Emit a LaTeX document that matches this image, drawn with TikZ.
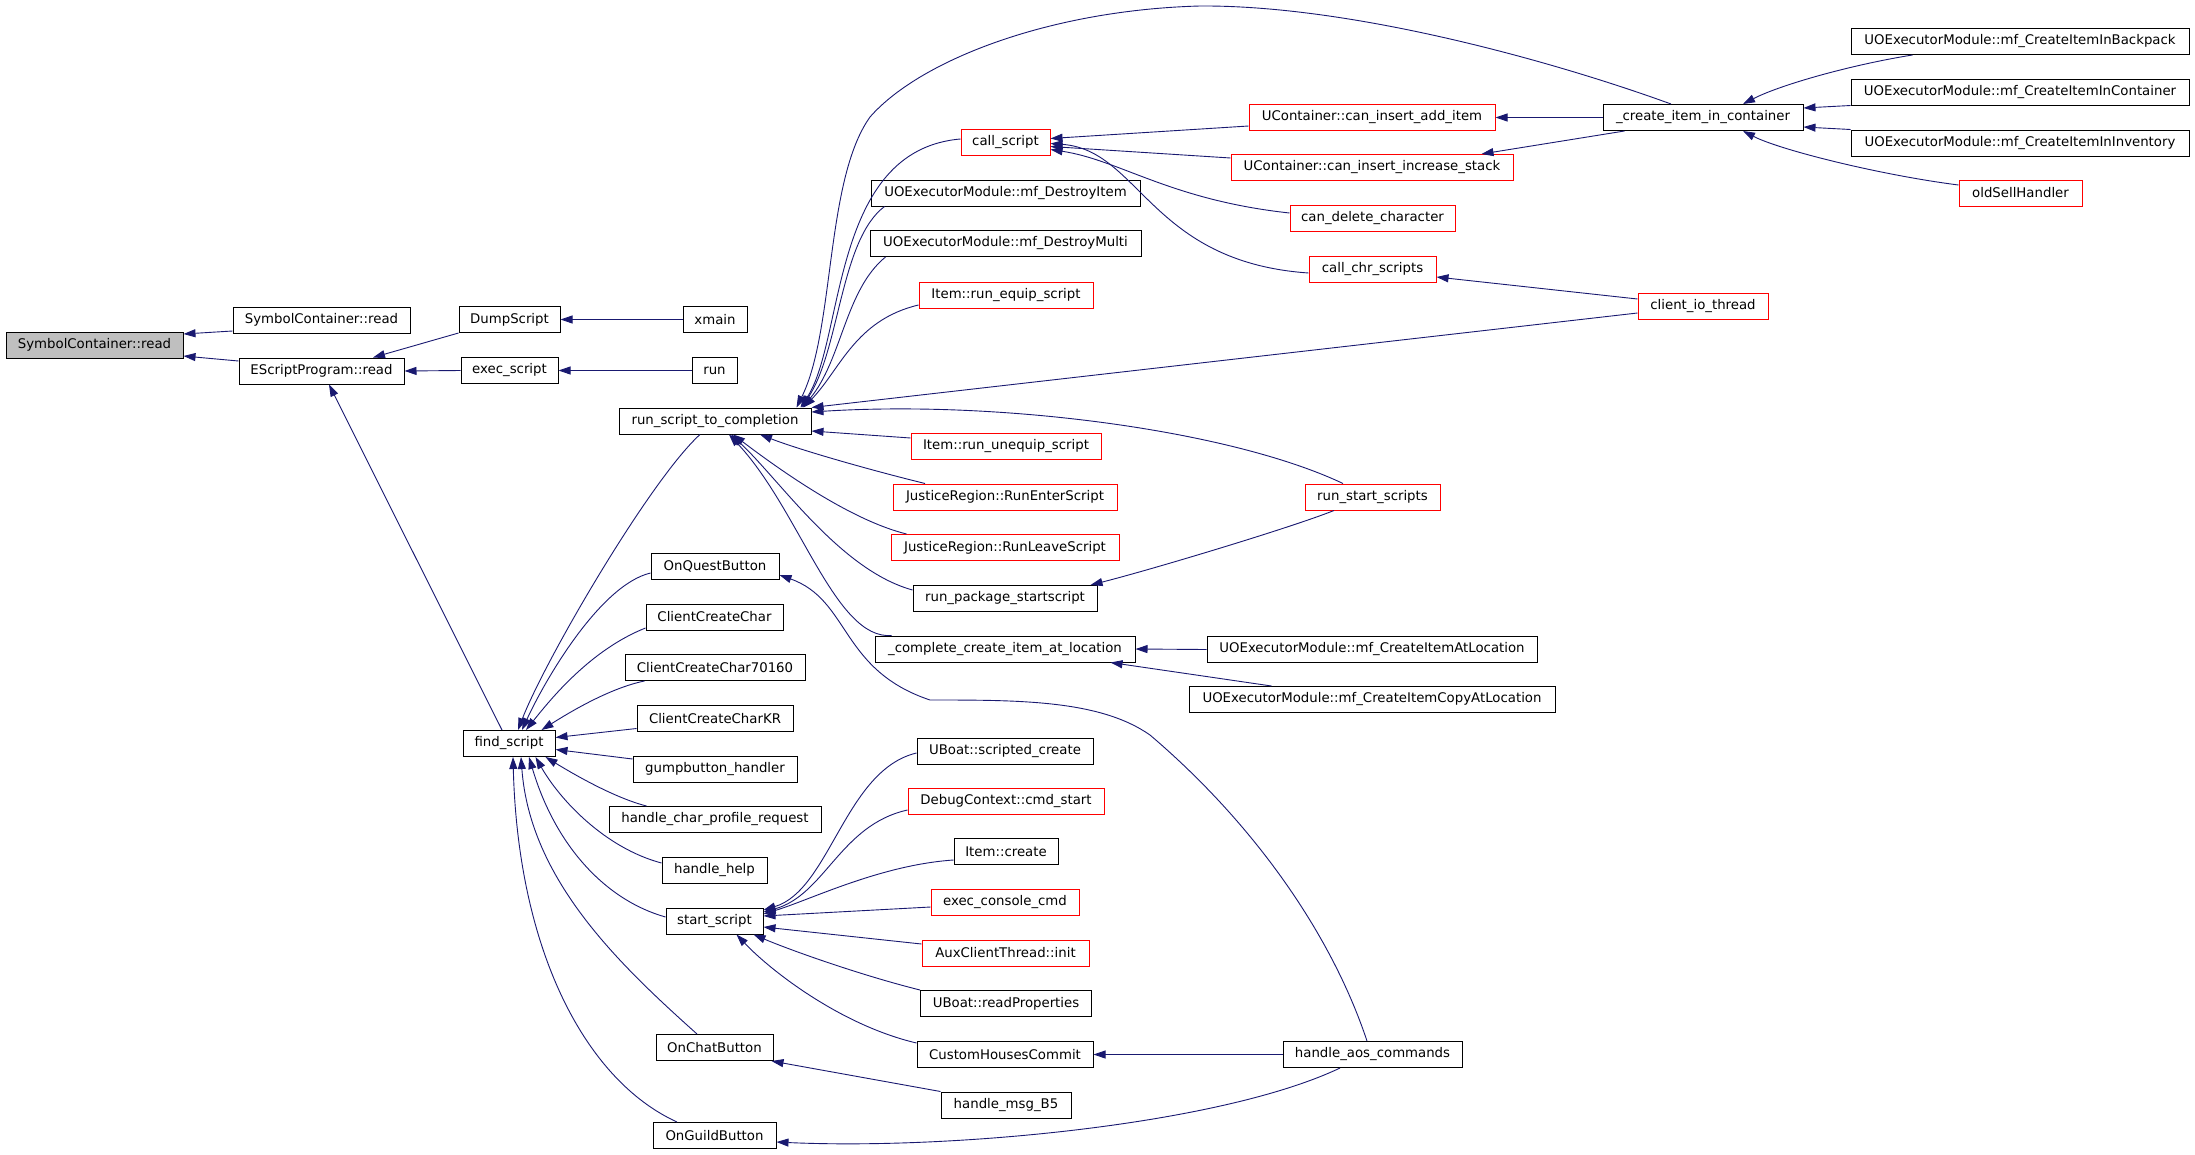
\documentclass[tikz,border=0pt]{standalone}
\usepackage{fontspec}
\setmainfont{DejaVu Sans}
\usepackage{tikz}
\usetikzlibrary{positioning, arrows.meta}
\definecolor{edgeblue}{HTML}{191970}

\begin{document}
\begin{tikzpicture}[x=1pt, y=-1pt,
        func/.style={draw=black, line width=1pt, minimum height=26pt, inner xsep=0pt, inner ysep=0pt,
            font=\fontsize{13.3}{16}\selectfont},
        trunc/.style={func, draw=red},
        rootfn/.style={func, fill=black!25},
        callline/.style={draw=edgeblue, line width=0.9pt, {Triangle[length=12pt,width=8pt]}-}]
    \useasboundingbox (0,0) rectangle (2195,1154);

    % rank 0 - 2
    \node[rootfn, minimum width=177pt] (root) at (94.5,345) {SymbolContainer::read};
    \node[func, minimum width=177pt] (scread) at (321.5,320) {SymbolContainer::read};
    \node[func, minimum width=165pt] (espread) at (321.5,371) {EScriptProgram::read};
    \node[func, minimum width=101pt] (dumpscript) at (509.5,319.5) {DumpScript};
    \node[func, minimum width=97pt] (execscript) at (509.5,370.5) {exec\_script};
    \node[func, minimum width=92pt] (findscript) at (509,743.5) {find\_script};

    % rank 3
    \node[func, minimum width=64pt] (xmain) at (715,319.5) {xmain};
    \node[func, minimum width=45pt] (run) at (714.5,370.5) {run};
    \node[func, minimum width=192pt] (rstc) at (715,421) {run\_script\_to\_completion};
    \node[func, minimum width=128pt] (onquest) at (715,566.5) {OnQuestButton};
    \node[func, minimum width=137pt] (ccchar) at (714.5,617) {ClientCreateChar};
    \node[func, minimum width=180pt] (ccchar7) at (715,667.5) {ClientCreateChar70160};
    \node[func, minimum width=156pt] (cccharkr) at (715,718.5) {ClientCreateCharKR};
    \node[func, minimum width=164pt] (gumpbtn) at (715,769) {gumpbutton\_handler};
    \node[func, minimum width=212pt] (charprofile) at (715,819.5) {handle\_char\_profile\_request};
    \node[func, minimum width=105pt] (handlehelp) at (714.5,870.5) {handle\_help};
    \node[func, minimum width=97pt] (startscript) at (714.5,921) {start\_script};
    \node[func, minimum width=117pt] (onchat) at (714.5,1047.5) {OnChatButton};
    \node[func, minimum width=123pt] (onguild) at (714.5,1135.5) {OnGuildButton};

    % rank 4
    \node[trunc, minimum width=89pt] (callscript) at (1005.5,142.5) {call\_script};
    \node[func, minimum width=269pt] (destroyitem) at (1005.5,193) {UOExecutorModule::mf\_DestroyItem};
    \node[func, minimum width=271pt] (destroymulti) at (1005.5,243.5) {UOExecutorModule::mf\_DestroyMulti};
    \node[trunc, minimum width=174pt] (runequip) at (1006,295) {Item::run\_equip\_script};
    \node[trunc, minimum width=190pt] (rununequip) at (1006,446.5) {Item::run\_unequip\_script};
    \node[trunc, minimum width=224pt] (runenter) at (1005,497) {JusticeRegion::RunEnterScript};
    \node[trunc, minimum width=228pt] (runleave) at (1005,547.5) {JusticeRegion::RunLeaveScript};
    \node[func, minimum width=184pt] (runpkg) at (1005,598.5) {run\_package\_startscript};
    \node[func, minimum width=260pt] (completecreate) at (1005,649) {\_complete\_create\_item\_at\_location};
    \node[func, minimum width=176pt] (scriptedcreate) at (1005,751) {UBoat::scripted\_create};
    \node[trunc, minimum width=196pt] (cmdstart) at (1006,801.5) {DebugContext::cmd\_start};
    \node[func, minimum width=104pt] (itemcreate) at (1006,851.5) {Item::create};
    \node[trunc, minimum width=148pt] (execconsole) at (1005,902.5) {exec\_console\_cmd};
    \node[trunc, minimum width=167pt] (auxinit) at (1005.5,953) {AuxClientThread::init};
    \node[func, minimum width=171pt] (readprops) at (1006,1003.5) {UBoat::readProperties};
    \node[func, minimum width=176pt] (customhouses) at (1005,1054.5) {CustomHousesCommit};
    \node[func, minimum width=130pt] (msgb5) at (1006,1105) {handle\_msg\_B5};

    % rank 5
    \node[trunc, minimum width=246pt] (canadd) at (1372,117.5) {UContainer::can\_insert\_add\_item};
    \node[trunc, minimum width=282pt] (canstack) at (1372,167.5) {UContainer::can\_insert\_increase\_stack};
    \node[trunc, minimum width=165pt] (candelete) at (1372.5,218.5) {can\_delete\_character};
    \node[trunc, minimum width=127pt] (callchr) at (1372.5,269) {call\_chr\_scripts};
    \node[trunc, minimum width=135pt] (runstart) at (1372.5,497) {run\_start\_scripts};
    \node[func, minimum width=330pt] (createatloc) at (1372,649.5) {UOExecutorModule::mf\_CreateItemAtLocation};
    \node[func, minimum width=366pt] (copyatloc) at (1372,699.5) {UOExecutorModule::mf\_CreateItemCopyAtLocation};
    \node[func, minimum width=179pt] (aoscmds) at (1372.5,1054.5) {handle\_aos\_commands};

    % rank 6 - 7
    \node[func, minimum width=200pt] (createincont) at (1703,117.5) {\_create\_item\_in\_container};
    \node[trunc, minimum width=130pt] (clientio) at (1703,306.5) {client\_io\_thread};
    \node[func, minimum width=338pt] (inbackpack) at (2020,41.5) {UOExecutorModule::mf\_CreateItemInBackpack};
    \node[func, minimum width=338pt] (incontainer) at (2020,92) {UOExecutorModule::mf\_CreateItemInContainer};
    \node[func, minimum width=338pt] (ininventory) at (2020,143) {UOExecutorModule::mf\_CreateItemInInventory};
    \node[trunc, minimum width=123pt] (oldsell) at (2020.5,193) {oldSellHandler};

    % straight calls
    \foreach \a/\b in {espread/execscript, dumpscript/xmain, execscript/run, canadd/createincont,
            completecreate/createatloc, customhouses/aoscmds}
        \draw[callline] (\a.east) -- (\b.west);

    \draw[callline] ([yshift=11pt]root.east) -- ([yshift=-11pt]scread.west);
    \draw[callline] ([yshift=-11pt]root.east) -- ([yshift=10pt]espread.west);
    \draw[callline] ([xshift=51.5pt]espread.north) -- (dumpscript.south west);
    \draw[callline] ([xshift=7.5pt]espread.south) -- ([xshift=-7pt]findscript.north);

    % callers of find_script
    \draw[callline] ([xshift=9pt]findscript.north) .. controls (545,660) and (650,480) .. ([xshift=-15pt]rstc.south);
    \draw[callline] ([xshift=13pt]findscript.north) .. controls (545,680) and (600,585) .. ([yshift=-6.5pt]onquest.west);
    \draw[callline] ([xshift=17pt]findscript.north) .. controls (550,700) and (590,650) .. ([yshift=-11pt]ccchar.west);
    \draw[callline] ([xshift=-14pt]findscript.north east) .. controls (570,712) and (610,688) .. ([xshift=20pt]ccchar7.south west);
    \draw[callline] ([yshift=6pt]findscript.east) -- ([yshift=-10pt]cccharkr.west);
    \draw[callline] ([yshift=-6pt]findscript.east) -- ([yshift=10pt]gumpbtn.west);
    \draw[callline] ([xshift=-10pt]findscript.south east) .. controls (575,775) and (615,798) .. ([xshift=38pt]charprofile.north west);
    \draw[callline] ([xshift=-20pt]findscript.south east) .. controls (560,800) and (605,848) .. ([yshift=7.5pt]handlehelp.west);
    \draw[callline] ([xshift=20pt]findscript.south) .. controls (555,845) and (605,900) .. ([yshift=4pt]startscript.west);
    \draw[callline] ([xshift=12pt]findscript.south) .. controls (530,880) and (620,965) .. ([xshift=-17.5pt]onchat.north);
    \draw[callline] ([xshift=4pt]findscript.south) .. controls (518,950) and (585,1080) .. ([xshift=-37.5pt]onguild.north);

    % callers of run_script_to_completion
    \draw[callline] ([xshift=-11pt]rstc.north east) .. controls (845,340) and (830,150) .. ([yshift=3.5pt]callscript.west);
    \draw[callline] ([xshift=-10pt]rstc.north east) .. controls (840,350) and (840,240) .. ([xshift=14pt]destroyitem.south west);
    \draw[callline] ([xshift=-9pt]rstc.north east) .. controls (842,360) and (845,290) .. ([xshift=16pt]destroymulti.south west);
    \draw[callline] ([xshift=-8pt]rstc.north east) .. controls (840,370) and (855,320) .. ([yshift=-10pt]runequip.west);
    \draw[callline] ([xshift=-15pt]rstc.north east) .. controls (835,330) and (825,180) .. (870,117)
        .. controls (920,60) and (1050,10) .. (1200,6) .. controls (1350,5) and (1550,60) .. ([xshift=-32pt]createincont.north);
    \draw[callline] (rstc.north east) -- ([yshift=-6.5pt]clientio.west);
    \draw[callline] ([yshift=9pt]rstc.east) .. controls (1000,400) and (1230,430) .. ([xshift=-29.5pt]runstart.north);
    \draw[callline] ([yshift=-10pt]rstc.east) -- ([yshift=8.5pt]rununequip.west);
    \draw[callline] ([xshift=45pt]rstc.south) .. controls (800,450) and (870,470) .. ([xshift=-80pt]runenter.north);
    \draw[callline] ([xshift=18pt]rstc.south) .. controls (780,470) and (850,520) .. ([xshift=16pt]runleave.north west);
    \draw[callline] ([xshift=16pt]rstc.south) .. controls (780,480) and (840,570) .. ([yshift=8.5pt]runpkg.west);
    \draw[callline] ([xshift=14pt]rstc.south) .. controls (800,510) and (835,640) .. ([xshift=17pt]completecreate.north west);

    \draw[callline] ([yshift=-8.5pt]onquest.east) .. controls (850,600) and (840,670) .. (930,700)
        .. controls (1020,700) and (1100,700) .. (1150,735) .. controls (1250,820) and (1330,930) .. ([xshift=-5.5pt]aoscmds.north);

    % callers of call_script
    \draw[callline] ([yshift=4pt]callscript.east) -- ([yshift=-8.5pt]canadd.west);
    \draw[callline] ([yshift=-4pt]callscript.east) -- ([yshift=9.5pt]canstack.west);
    \draw[callline] ([yshift=-7pt]callscript.east) .. controls (1120,160) and (1170,200) .. ([yshift=5.5pt]candelete.west);
    \draw[callline] ([yshift=-1pt]callscript.east) .. controls (1140,150) and (1150,262) .. ([yshift=-4pt]callchr.west);

    \draw[callline] ([xshift=-32pt]canstack.north east) -- ([xshift=22pt]createincont.south west);
    \draw[callline] ([yshift=-8pt]callchr.east) -- ([yshift=7.5pt]clientio.west);
    \draw[callline] ([xshift=-7pt]runpkg.north east) .. controls (1150,570) and (1290,528) .. ([xshift=-38.5pt]runstart.south);
    \draw[callline] ([xshift=-25pt]completecreate.south east) -- ([xshift=83pt]copyatloc.north west);

    % callers of _create_item_in_container
    \draw[callline] ([xshift=40pt]createincont.north) .. controls (1780,85) and (1850,65) .. ([xshift=62pt]inbackpack.south west);
    \draw[callline] ([yshift=9.5pt]createincont.east) -- (incontainer.south west);
    \draw[callline] ([yshift=-9.5pt]createincont.east) -- (ininventory.north west);
    \draw[callline] ([xshift=40pt]createincont.south) .. controls (1780,150) and (1880,175) .. ([yshift=8pt]oldsell.west);

    % callers of start_script
    \draw[callline] ([yshift=11pt]startscript.east) .. controls (830,890) and (845,770) .. ([yshift=-2pt]scriptedcreate.west);
    \draw[callline] ([yshift=9pt]startscript.east) .. controls (825,895) and (840,825) .. ([yshift=-8.5pt]cmdstart.west);
    \draw[callline] ([yshift=7pt]startscript.east) .. controls (810,900) and (880,865) .. ([yshift=-8.5pt]itemcreate.west);
    \draw[callline] ([yshift=5pt]startscript.east) -- ([yshift=-4.5pt]execconsole.west);
    \draw[callline] ([yshift=-6pt]startscript.east) -- ([yshift=9pt]auxinit.west);
    \draw[callline] ([xshift=-10pt]startscript.south east) .. controls (790,950) and (860,975) .. ([yshift=13.5pt]readprops.west);
    \draw[callline] ([xshift=22pt]startscript.south) .. controls (770,970) and (840,1025) .. ([yshift=11.5pt]customhouses.west);

    \draw[callline] ([xshift=-2pt]onchat.south east) -- (msgb5.north west);
    \draw[callline] ([yshift=-6.5pt]onguild.east) .. controls (950,1150) and (1220,1125) .. ([xshift=-32.5pt]aoscmds.south);
\end{tikzpicture}
\end{document}
